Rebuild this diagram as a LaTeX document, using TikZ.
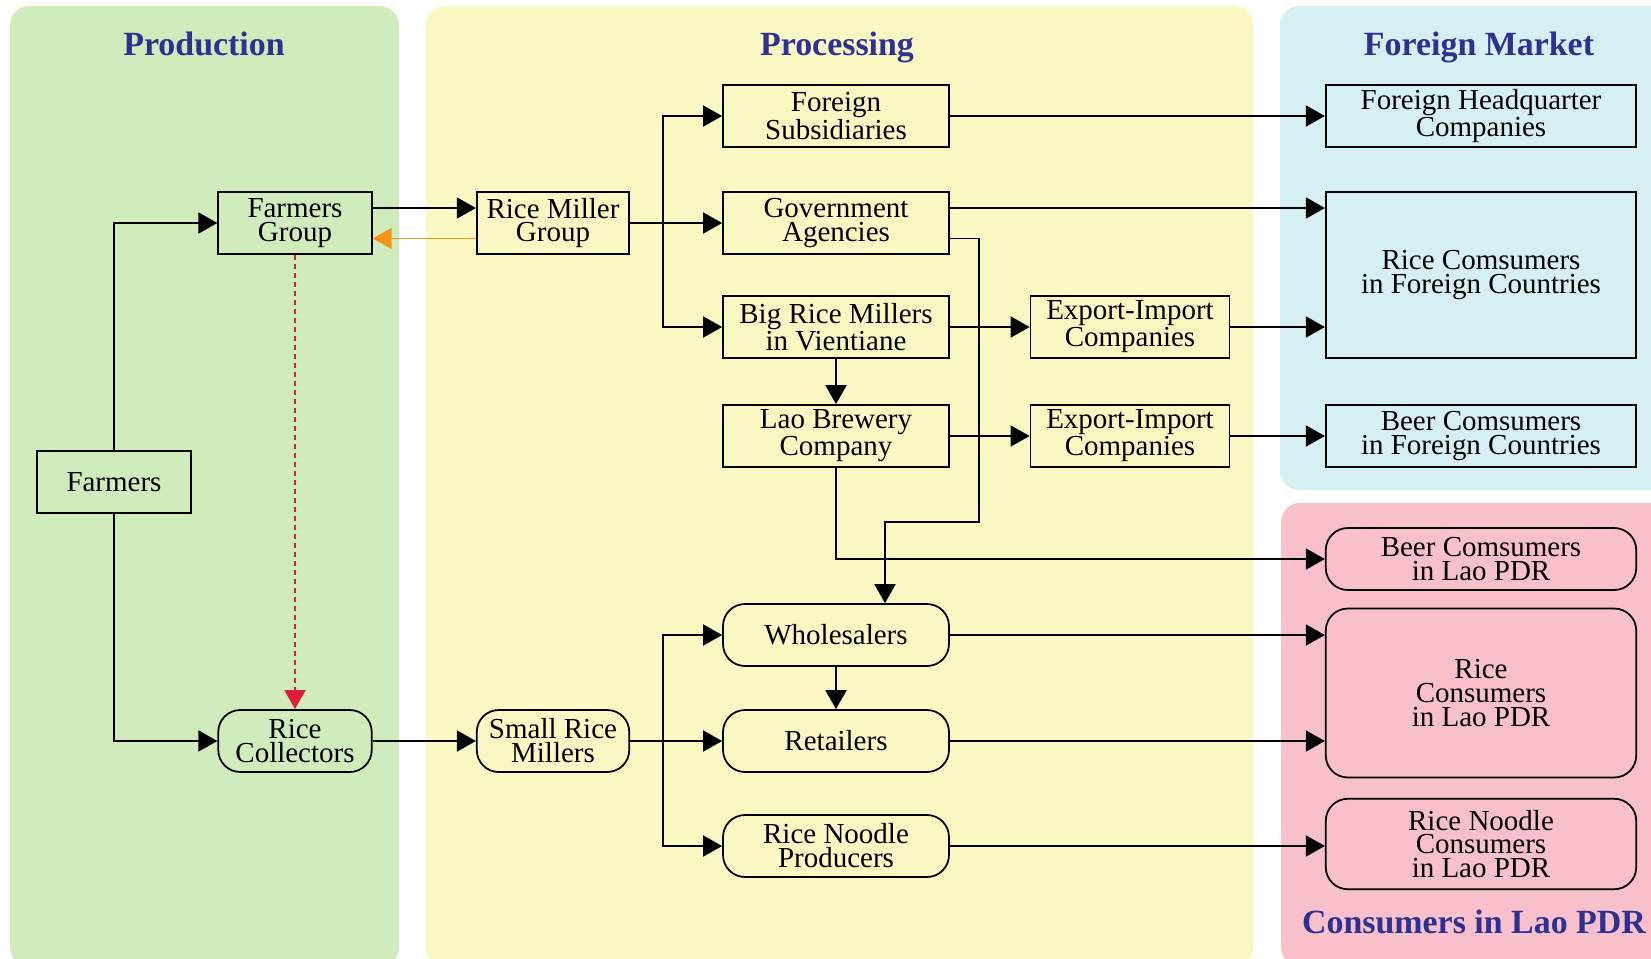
\documentclass[tikz,border=0pt]{standalone}
\usepackage{fontspec}
\setmainfont{Liberation Serif}
\usepackage{xcolor}
\usetikzlibrary{arrows.meta,positioning,calc}

\definecolor{prodgreen}{RGB}{208,235,188}
\definecolor{procyellow}{RGB}{250,248,194}
\definecolor{forblue}{RGB}{214,239,243}
\definecolor{conpink}{RGB}{247,192,203}
\definecolor{titleblue}{RGB}{46,49,146}
\definecolor{backorange}{RGB}{247,148,29}
\definecolor{infored}{RGB}{218,31,61}

\tikzset{
  box/.style={draw,rectangle,line width=1pt,inner sep=0pt,align=center,
    font=\fontsize{16.5}{13.6}\selectfont,minimum height=1.24cm},
  rbox/.style={box,rounded corners=0.44cm},
  panel/.style={rounded corners=0.38cm},
  paneltitle/.style={anchor=base,text=titleblue,font=\fontsize{19.3}{22}\selectfont\bfseries},
  flow/.style={line width=1pt,-{Triangle[length=0.38cm,width=0.42cm]}}
}

\begin{document}
\begin{tikzpicture}[x=0.02cm,y=-0.02cm]
            \useasboundingbox (0,0) rectangle (1651,958);

            % Stage panels
            \fill[prodgreen,panel] (10,6) rectangle (399,966);
            \fill[procyellow,panel] (426,6) rectangle (1253,966);
            \fill[forblue,panel] (1280,6) rectangle (1672,490);
            \fill[conpink,panel] (1281,503) rectangle (1672,966);

            \node[paneltitle] (tprod) at (204,55) {Production};
            \node[paneltitle] (tproc) at (837,55) {Processing};
            \node[paneltitle] (tfor) at (1479,55) {Foreign Market};
            \node[paneltitle] (tcon) at (1474,933) {Consumers in Lao PDR};

            % Production
            \node[box,minimum width=3.07cm] (farmers) at (114,482) {Farmers};
            \node[box,minimum width=3.07cm] (fg) at (295,223) {Farmers\\Group};
            \node[rbox,minimum width=3.07cm] (rc) at (295,741) {Rice\\Collectors};

            % Processing
            \node[box,minimum width=3.05cm] (rmg) at (553,223) {Rice Miller\\Group};
            \node[rbox,minimum width=3.05cm] (srm) at (553,741) {Small Rice\\Millers};
            \node[box,minimum width=4.52cm] (fs) at (836,116) {Foreign\\Subsidiaries};
            \node[box,minimum width=4.52cm] (ga) at (836,223) {Government\\Agencies};
            \node[box,minimum width=4.52cm] (brm) at (836,327) {Big Rice Millers\\in Vientiane};
            \node[box,minimum width=4.52cm] (lbc) at (836,436) {Lao Brewery\\Company};
            \node[box,minimum width=3.98cm] (eia) at (1130,327) {Export-Import\\Companies};
            \node[box,minimum width=3.98cm] (eib) at (1130,436) {Export-Import\\Companies};
            \node[rbox,minimum width=4.52cm] (whs) at (836,635) {Wholesalers};
            \node[rbox,minimum width=4.52cm] (ret) at (836,741) {Retailers};
            \node[rbox,minimum width=4.52cm] (rnp) at (836,846) {Rice Noodle\\Producers};

            % Foreign market
            \node[box,minimum width=6.21cm] (fhq) at (1481,116) {Foreign Headquarter\\Companies};
            \node[box,minimum width=6.21cm,minimum height=3.33cm] (rcf) at (1481,275) {Rice Comsumers\\in Foreign Countries};
            \node[box,minimum width=6.21cm] (bcf) at (1481,436) {Beer Comsumers\\in Foreign Countries};

            % Consumers in Lao PDR
            \node[rbox,minimum width=6.21cm] (bcl) at (1481,559) {Beer Comsumers\\in Lao PDR};
            \node[rbox,minimum width=6.21cm,minimum height=3.38cm] (rcl) at (1481,693) {Rice\\Consumers\\in Lao PDR};
            \node[rbox,minimum width=6.21cm,minimum height=1.81cm] (rnc) at (1481,844) {Rice Noodle\\Consumers\\in Lao PDR};

            \coordinate (trunk) at (663,0);
            \coordinate (gaturn) at (979,522);

            % Connections
            \draw[flow] (farmers.north) |- (fg.west);
            \draw[flow] (farmers.south) |- (rc.west);
            \draw[flow] ([yshift=0.3cm]fg.east) -- ([yshift=0.3cm]rmg.west);
            \draw[flow,backorange] ([yshift=-0.31cm]rmg.west) -- ([yshift=-0.31cm]fg.east);
            \draw[flow,infored,dash pattern=on 0.1cm off 0.08cm] (fg.south) -- (rc.north);
            \draw[flow] (rc.east) -- (srm.west);

            \draw[flow] (rmg.east) -- (ga.west);
            \draw[flow] (rmg.east -| trunk) |- (fs.west);
            \draw[flow] (rmg.east -| trunk) |- (brm.west);
            \draw[flow] (srm.east) -- (ret.west);
            \draw[flow] (srm.east -| trunk) |- (whs.west);
            \draw[flow] (srm.east -| trunk) |- (rnp.west);

            \draw[flow] (fs.east) -- (fhq.west);
            \draw[flow] ([yshift=0.3cm]ga.east) -- ([yshift=0.3cm]ga.east -| rcf.west);
            \draw[flow] ([yshift=-0.31cm]ga.east) -| (gaturn) -| ([xshift=0.98cm]whs.north);
            \draw[flow] (brm.east) -- (eia.west);
            \draw[flow] (eia.east) -- (eia.east -| rcf.west);
            \draw[flow] (brm.south) -- (lbc.north);
            \draw[flow] (lbc.east) -- (eib.west);
            \draw[flow] (eib.east) -- (bcf.west);
            \draw[flow] (lbc.south) |- (bcl.west);

            \draw[flow] (whs.east) -- (whs.east -| rcl.west);
            \draw[flow] (whs.south) -- (ret.north);
            \draw[flow] (ret.east) -- (ret.east -| rcl.west);
            \draw[flow] (rnp.east) -- (rnp.east -| rnc.west);
        \end{tikzpicture}
\end{document}
